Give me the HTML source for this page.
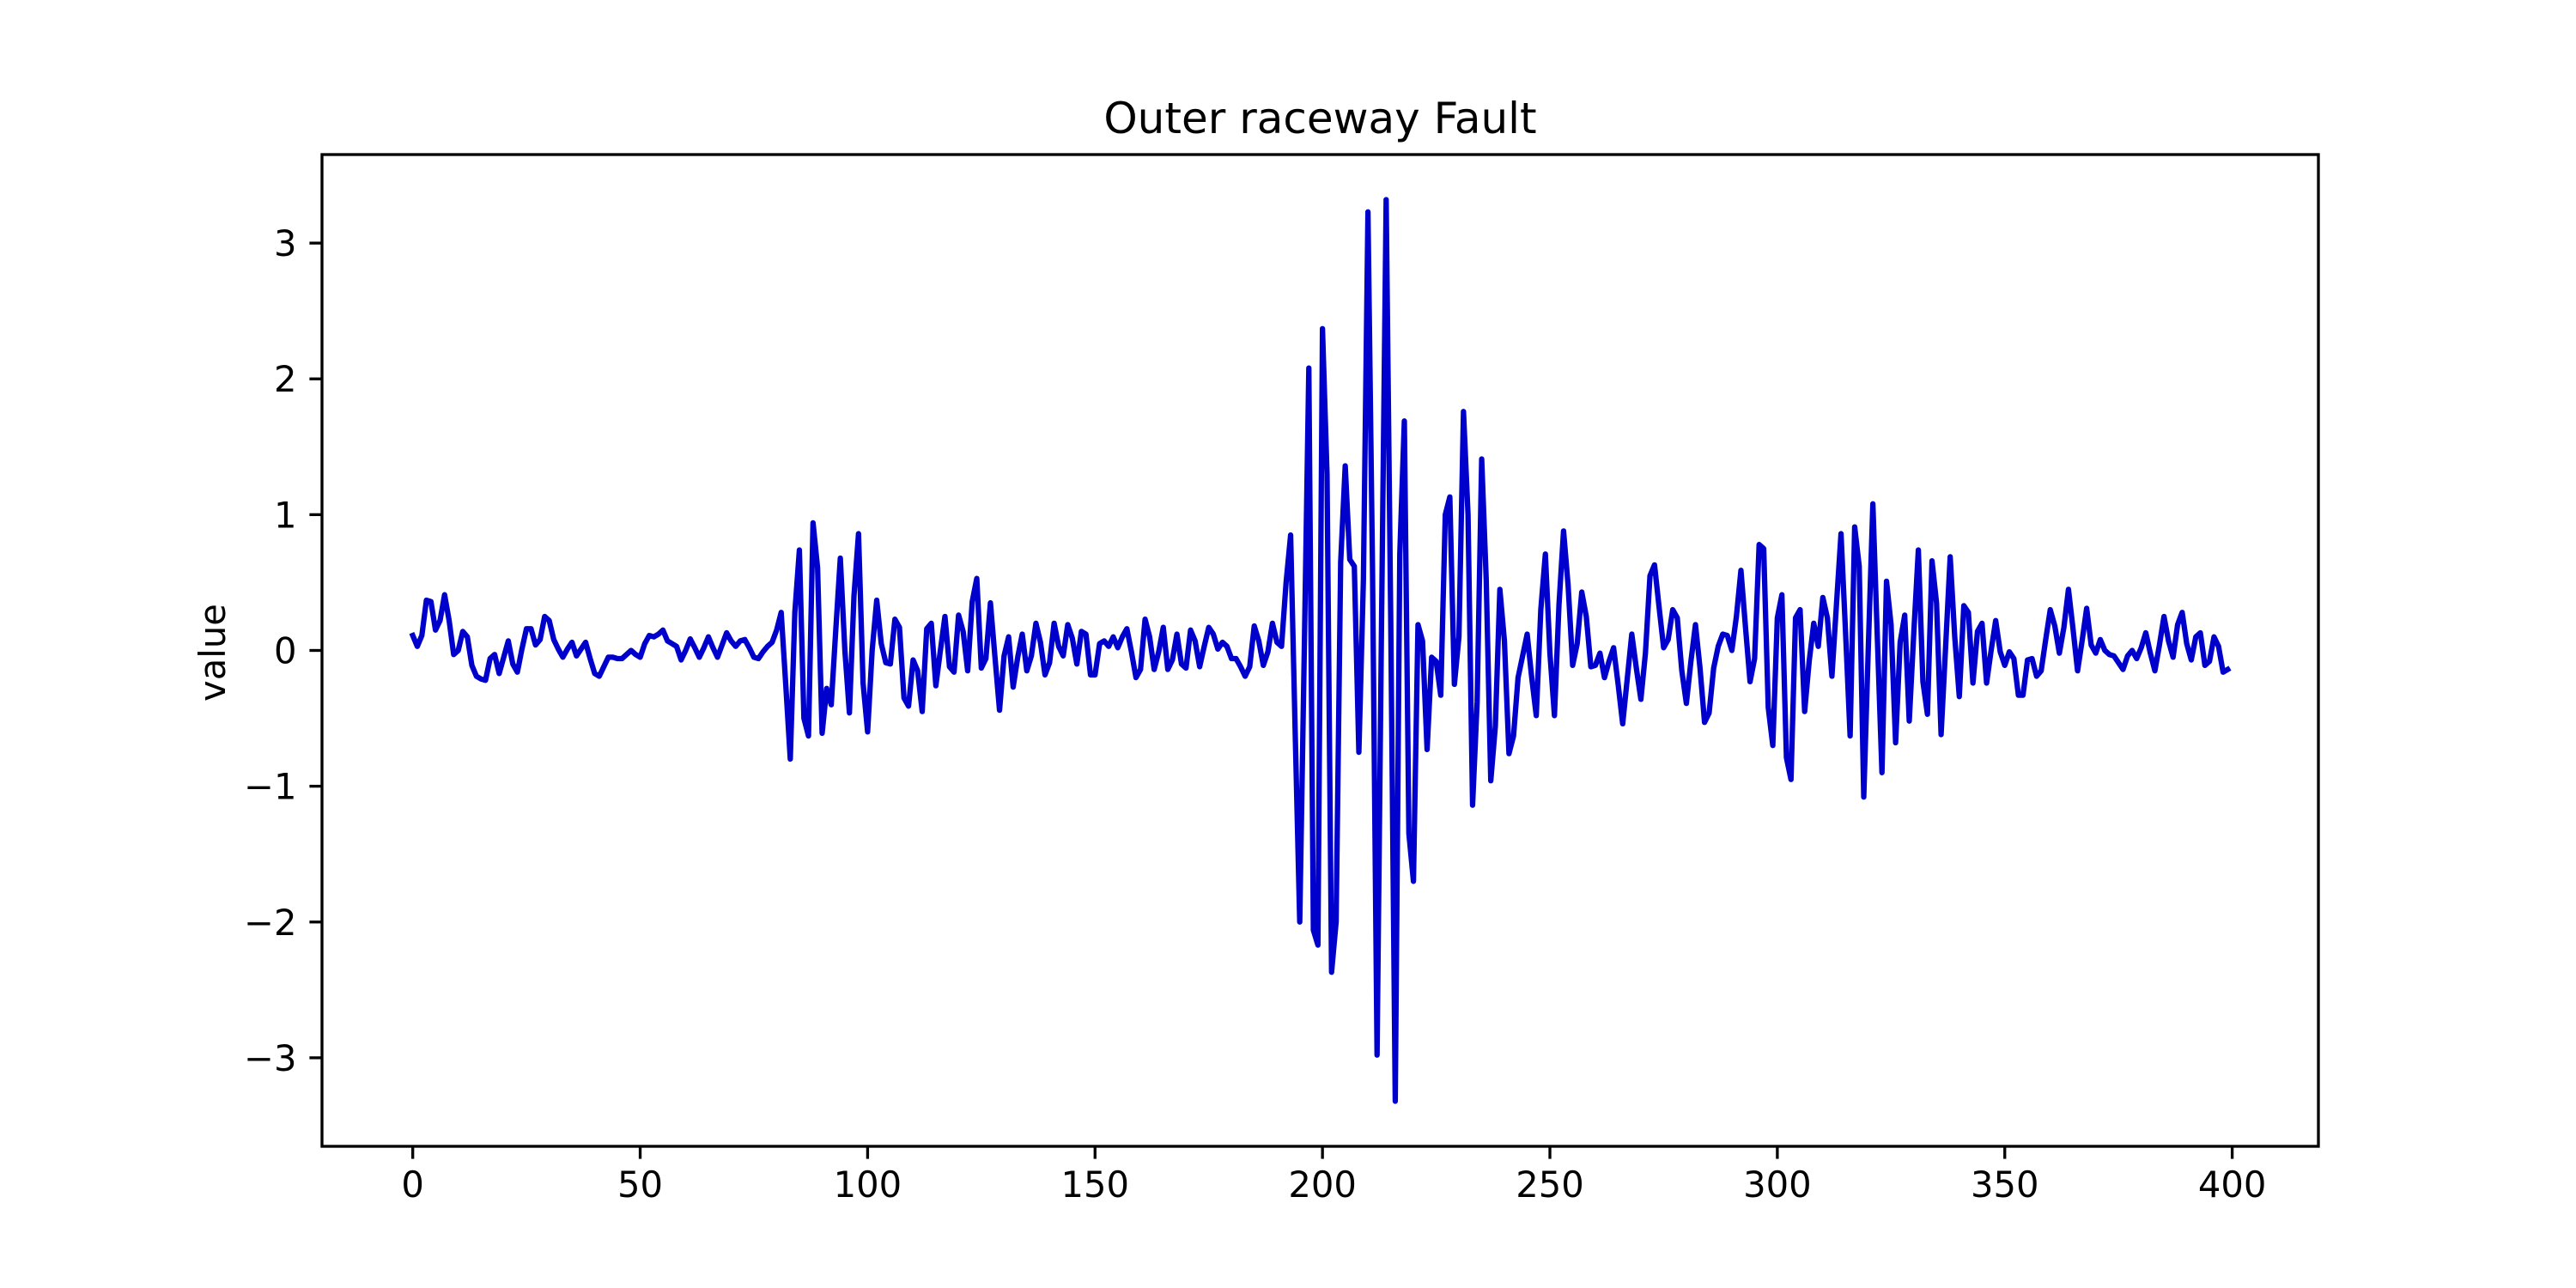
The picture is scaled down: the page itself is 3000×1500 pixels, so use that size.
<!DOCTYPE html>
<html>
<head>
<meta charset="utf-8">
<style>
  html, body { margin: 0; padding: 0; background: #ffffff; }
  svg { display: block; }
  text { font-family: "DejaVu Sans", "Liberation Sans", sans-serif; fill: #000; }
</style>
</head>
<body>
<svg id="chart" xmlns="http://www.w3.org/2000/svg" width="3000" height="1500" viewBox="0 0 3000 1500">
  <rect x="0" y="0" width="3000" height="1500" fill="#ffffff"></rect>
  <text x="1537.5" y="155" font-size="50" text-anchor="middle">Outer raceway Fault</text>
  <text x="0" y="0" font-size="41.7" text-anchor="middle" transform="translate(262,760) rotate(-90)">value</text>
  <g id="plot"></g>
  <g id="xaxis"></g>
  <g id="yaxis"></g>
  <rect x="375" y="180" width="2325" height="1155" fill="none" stroke="#000" stroke-width="3.33"></rect>
</svg>
<script>
const xTicks = [0, 50, 100, 150, 200, 250, 300, 350, 400];
const yTicks = [-3, -2, -1, 0, 1, 2, 3];
const seriesValues = [
0.11,0.03,0.11,0.37,0.36,0.15,0.22,0.41,0.22,-0.03,
0.0,0.14,0.10,-0.11,-0.19,-0.21,-0.22,-0.06,-0.03,-0.17,
-0.05,0.07,-0.10,-0.16,0.01,0.16,0.16,0.04,0.08,0.25,
0.22,0.08,0.01,-0.05,0.01,0.06,-0.04,0.01,0.06,-0.06,
-0.17,-0.19,-0.12,-0.05,-0.05,-0.06,-0.06,-0.03,0.0,-0.03,
-0.05,0.05,0.11,0.10,0.12,0.15,0.07,0.05,0.03,-0.07,
0.0,0.085,0.02,-0.05,0.02,0.10,0.02,-0.05,0.04,0.13,
0.07,0.03,0.07,0.08,0.02,-0.05,-0.06,-0.01,0.03,0.06,
0.15,0.28,-0.25,-0.8,0.28,0.74,-0.5,-0.63,0.94,0.61,
-0.61,-0.28,-0.4,0.15,0.68,0.0,-0.46,0.4,0.86,-0.24,
-0.6,0.0,0.37,0.05,-0.09,-0.1,0.23,0.17,-0.35,-0.41,
-0.07,-0.15,-0.45,0.16,0.2,-0.26,0.0,0.25,-0.12,-0.16,
0.26,0.14,-0.15,0.36,0.53,-0.13,-0.06,0.35,-0.05,-0.44,
-0.04,0.1,-0.27,-0.05,0.12,-0.15,-0.04,0.2,0.06,-0.18,
-0.09,0.2,0.03,-0.04,0.19,0.09,-0.1,0.14,0.12,-0.18,
-0.18,0.05,0.07,0.03,0.1,0.02,0.1,0.16,-0.01,-0.2,
-0.14,0.23,0.1,-0.14,-0.01,0.17,-0.14,-0.07,0.12,-0.1,
-0.13,0.15,0.07,-0.12,0.03,0.17,0.12,0.01,0.06,0.03,
-0.06,-0.06,-0.12,-0.19,-0.12,0.18,0.07,-0.11,-0.01,0.2,
0.06,0.03,0.5,0.85,-0.6,-2.0,0.0,2.08,-2.06,-2.17,
2.37,1.3,-2.37,-2.0,0.65,1.36,0.67,0.62,-0.75,0.52,
3.23,0.6,-2.98,0.25,3.32,0.25,-3.32,0.71,1.69,-1.35,
-1.70,0.19,0.07,-0.73,-0.05,-0.08,-0.33,1.0,1.13,-0.25,
0.10,1.76,1.0,-1.14,-0.38,1.41,0.52,-0.96,-0.56,0.45,
0.07,-0.76,-0.63,-0.2,-0.04,0.12,-0.2,-0.48,0.3,0.71,
-0.02,-0.48,0.34,0.88,0.48,-0.11,0.05,0.43,0.25,-0.12,
-0.11,-0.02,-0.2,-0.08,0.02,-0.25,-0.54,-0.21,0.12,-0.13,
-0.36,-0.02,0.55,0.63,0.32,0.02,0.08,0.3,0.24,-0.15,
-0.39,-0.08,0.19,-0.13,-0.53,-0.46,-0.13,0.03,0.12,0.11,
0.0,0.25,0.59,0.17,-0.23,-0.06,0.78,0.75,-0.42,-0.70,
0.24,0.41,-0.79,-0.95,0.24,0.30,-0.45,-0.08,0.2,0.03,
0.39,0.24,-0.19,0.34,0.86,0.13,-0.63,0.91,0.62,-1.08,
0.02,1.08,0.08,-0.9,0.51,0.19,-0.68,0.06,0.26,-0.52,
0.13,0.74,-0.23,-0.47,0.66,0.35,-0.62,0.03,0.69,0.1,
-0.34,0.33,0.28,-0.24,0.14,0.2,-0.24,0.0,0.22,-0.01,
-0.11,-0.01,-0.06,-0.33,-0.33,-0.07,-0.06,-0.19,-0.15,0.08,
0.3,0.18,-0.02,0.17,0.45,0.16,-0.15,0.07,0.31,0.04,
-0.02,0.08,0.0,-0.03,-0.04,-0.09,-0.14,-0.04,0.0,-0.06,
0.02,0.13,-0.02,-0.15,0.04,0.25,0.07,-0.05,0.19,0.28,
0.05,-0.07,0.1,0.13,-0.11,-0.08,0.1,0.03,-0.16,-0.14
];
const xValues = seriesValues.map((_, i) => i);

const NS = "http://www.w3.org/2000/svg";
const AX = { left: 375, right: 2700, top: 180, bottom: 1335 };
const xMin = -0.05 * (xValues.length - 1), xMax = (xValues.length - 1) * 1.05;
const dMin = Math.min(...seriesValues), dMax = Math.max(...seriesValues);
const yMin = dMin - 0.05 * (dMax - dMin), yMax = dMax + 0.05 * (dMax - dMin);
function sx(v) { return AX.left + (v - xMin) / (xMax - xMin) * (AX.right - AX.left); }
function sy(v) { return AX.bottom - (v - yMin) / (yMax - yMin) * (AX.bottom - AX.top); }

const plot = document.getElementById("plot");
const pts = seriesValues.map((v, i) => sx(xValues[i]).toFixed(2) + "," + sy(v).toFixed(2)).join(" ");
const line = document.createElementNS(NS, "polyline");
line.setAttribute("points", pts);
line.setAttribute("fill", "none");
line.setAttribute("stroke", "#0000CD");
line.setAttribute("stroke-width", "6.25");
line.setAttribute("stroke-linejoin", "round");
line.setAttribute("stroke-linecap", "square");


plot.appendChild(line);

const xaxis = document.getElementById("xaxis");
xTicks.forEach(t => {
  const x = sx(t);
  const tk = document.createElementNS(NS, "line");
  tk.setAttribute("x1", x); tk.setAttribute("x2", x);
  tk.setAttribute("y1", AX.bottom); tk.setAttribute("y2", AX.bottom + 14.6);
  tk.setAttribute("stroke", "#000"); tk.setAttribute("stroke-width", "3.33");
  
  
  xaxis.appendChild(tk);
  const lb = document.createElementNS(NS, "text");
  lb.setAttribute("x", x); lb.setAttribute("y", 1394);
  lb.setAttribute("font-size", "41.7"); lb.setAttribute("text-anchor", "middle");
  lb.textContent = String(t);
  
  
  xaxis.appendChild(lb);
});

const yaxis = document.getElementById("yaxis");
yTicks.forEach(t => {
  const y = sy(t);
  const tk = document.createElementNS(NS, "line");
  tk.setAttribute("x1", AX.left - 14.6); tk.setAttribute("x2", AX.left);
  tk.setAttribute("y1", y); tk.setAttribute("y2", y);
  tk.setAttribute("stroke", "#000"); tk.setAttribute("stroke-width", "3.33");
  
  
  yaxis.appendChild(tk);
  const lb = document.createElementNS(NS, "text");
  lb.setAttribute("x", AX.left - 29.5); lb.setAttribute("y", y + 15);
  lb.setAttribute("font-size", "41.7"); lb.setAttribute("text-anchor", "end");
  lb.textContent = t < 0 ? "\u2212" + Math.abs(t) : String(t);
  
  
  yaxis.appendChild(lb);
});
</script>
</body>
</html>
